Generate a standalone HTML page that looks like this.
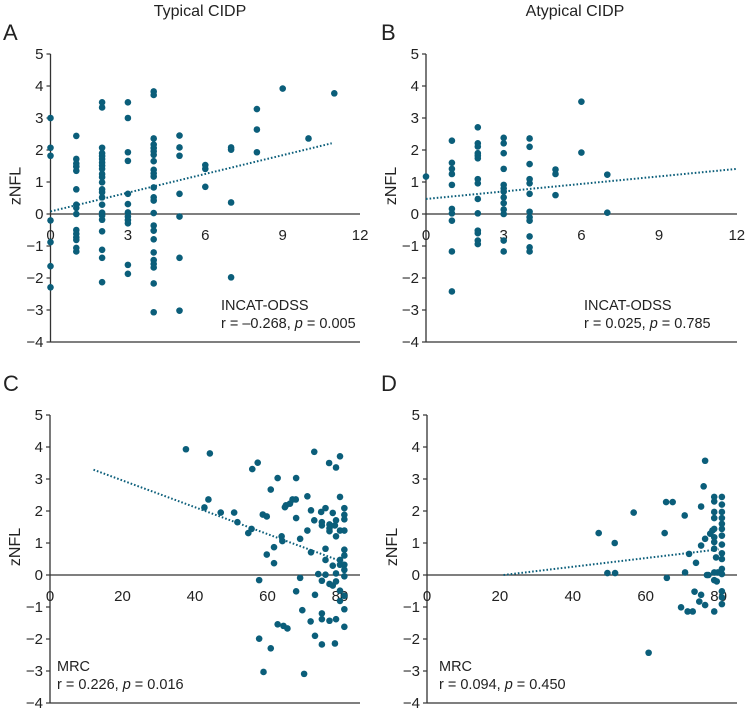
<!DOCTYPE html>
<html><head><meta charset="utf-8"><style>
html,body{margin:0;padding:0;background:#fff;}
svg{display:block;font-family:"Liberation Sans",sans-serif;}
</style></head><body>
<svg id="c" width="745" height="710" viewBox="0 0 745 710">
<text x="200" y="16" text-anchor="middle" font-size="16" fill="#222">Typical CIDP</text>
<text x="575" y="16" text-anchor="middle" font-size="16" fill="#222">Atypical CIDP</text>
</svg>
<script>
const yTicks=[5,4,3,2,1,0,-1,-2,-3,-4];
const xTicksIncat=[0,3,6,9,12];
const xTicksMrc=[0,20,40,60,80];
const aX=[0,0,0,0,0,0,0,1,1,1,1,1,1,1,1,1,1,1,1,1,1,1,2,2,2,2,2,2,2,2,2,2,2,2,2,2,2,2,2,2,2,2,2,2,2,3,3,3,3,3,3,3,3,3,3,3,3,4,4,4,4,4,4,4,4,4,4,4,4,4,4,4,4,4,4,4,4,4,4,4,4,5,5,5,5,5,5,5,6,6,6,7,7,7,7,8,8,8,9,10,11];
const aY=[3.0,2.07,1.82,-0.2,-0.88,-1.63,-2.29,2.44,1.72,1.58,1.48,1.35,0.77,0.29,0.19,0,-0.5,-0.62,-0.73,-0.81,-1.06,-1.17,3.49,3.33,2.07,1.9,1.81,1.72,1.61,1.51,1.41,1.25,1.15,0.99,0.77,0.68,0.52,0.29,0.04,-0.05,-0.18,-0.54,-1.12,-1.37,-2.13,3.49,3.0,1.93,1.66,0.63,0.31,0.05,-0.08,-0.19,-0.29,-1.59,-1.87,3.83,3.72,2.36,2.17,2.06,1.96,1.85,1.65,1.38,1.27,1.17,0.83,0.52,0.42,0.03,-0.36,-0.52,-0.79,-1.2,-1.44,-1.56,-1.67,-2.17,-3.07,2.45,2.08,1.82,0.63,-0.08,-1.37,-3.02,1.53,1.41,0.85,2.08,2.01,0.36,-1.98,3.28,2.64,1.93,3.92,2.36,3.77];
const aTrend=[[0,0.08],[10.9,2.21]];
const bX=[0,1,1,1,1,1,1,1,1,1,1,2,2,2,2,2,2,2,2,2,2,2,2,2,2,3,3,3,3,3,3,3,3,3,3,3,3,3,4,4,4,4,4,4,4,4,4,4,4,4,5,5,5,6,6,7,7];
const bY=[1.17,2.29,1.6,1.41,1.25,0.91,0.16,0.02,-0.21,-1.17,-2.42,2.71,2.21,2.11,1.9,1.82,1.74,1.09,0.96,0.47,0.02,-0.52,-0.6,-0.83,-0.94,2.38,2.21,1.9,1.41,0.91,0.8,0.7,0.52,0.34,0.14,0,-0.83,-1.17,2.36,2.1,1.56,1.09,0.96,0.63,0.07,-0.1,-0.21,-0.7,-1.04,-1.17,1.39,1.25,0.59,3.51,1.92,1.23,0.04];
const bTrend=[[0,0.47],[12,1.41]];
const cX=[37.5,44.1,43.7,42.6,47.1,50.8,51.7,54.7,55.6,55.8,57.3,57.7,57.7,58.9,58.7,59.8,59.8,60.9,60.9,61.8,61.8,62.8,62.8,63.9,64.1,64.4,64.8,65.1,65.5,66.2,66.9,67.8,67.9,67.9,67.9,69,69,69.6,70.1,71,71,71.9,72,72,72.9,72.9,73.1,73.1,74,74.8,75,75,75,75,75,75,76,76,76,76,77,77.1,77.1,77.1,77.1,77.1,78,78,78,78.6,78.6,78.9,78.9,78.9,78.9,78.9,78.9,80,80,80,80,80,80,80,81.2,81.2,81.2,81.2,81.2,81.2,81.2,81.2,81.2,81.2,81.2,81.2];
const cY=[3.93,3.8,2.36,2.11,1.95,1.95,1.65,1.31,1.44,3.31,3.51,-0.16,-1.99,-3.03,1.89,1.83,0.64,2.67,-2.29,0.87,0.37,3.03,-1.54,1.21,1.06,-1.59,2.12,2.18,-1.67,2.23,2.36,2.36,3.03,1.78,-0.51,1.13,-0.09,-1.1,-3.09,1.39,2.46,-1.45,0.71,2.02,3.85,1.71,-0.62,-1.9,0.03,1.97,1.65,1.55,-0.18,-1.2,-1.38,-2.17,2.09,0.82,0.47,0.01,3.5,1.58,1.46,1.37,-0.28,-1.43,1.94,0.29,-0.33,1.55,-2.14,3.36,1.71,1.21,0.05,-0.2,-1.38,3.71,2.44,1.39,0.47,0.32,-0.49,-0.81,2.09,1.88,1.74,1.39,0.79,0.61,0.32,0.16,-0.04,-0.65,-1.07,-1.62];
const cTrend=[[12,3.29],[81,0.4]];
const dX=[47.1,51.5,49.5,51.6,56.7,60.8,65.2,65.6,65.8,67.4,70.7,70.8,69.7,71.5,71.9,72.9,73.4,73.8,74.7,75.2,75.2,75.2,75.9,76.3,76.3,76.3,76.8,77.2,77.7,78.3,78.8,78.8,78.8,78.8,78.8,78.8,78.8,78.8,78.8,78.8,78.8,79.3,79.5,79.8,80.9,80.9,80.9,80.9,80.9,80.9,80.9,80.9,80.9,80.9,80.9,80.9,80.9,80.9,80.9];
const dY=[1.31,1.0,0.06,0.06,1.95,-2.43,1.31,2.28,-0.09,2.28,1.86,0.08,-1.01,-1.14,0.66,-1.14,-0.52,0.38,-0.83,2.14,0.92,-0.62,2.77,3.57,1.13,-0.94,0,0,1.29,1.39,2.44,2.3,1.97,1.78,1.44,1.18,1.03,0.82,0.08,-0.16,-1.14,0.55,-0.2,0.08,2.44,2.2,1.97,1.78,1.6,1.44,1.23,0.95,0.68,0.5,0.19,0.03,-0.51,-0.7,-0.91];
const dTrend=[[21,0],[80,0.8]];

const NS='http://www.w3.org/2000/svg';
const svg=document.getElementById('c');
const COL='#0b5e7a';
function mk(tag,attrs,parent){const e=document.createElementNS(NS,tag);for(const k in attrs)e.setAttribute(k,attrs[k]);(parent||svg).appendChild(e);return e;}

function panel(p){
  const g=mk('g',{});
  
  
  const xs=v=>p.x0+(v-p.xmin)*p.xs;
  const ys=v=>p.yTop+(5-v)*32;
  const xEnd=p.xRight;
  const L=mk('text',{x:p.lx,y:p.ly,'font-size':22,fill:'#222'},g);L.textContent=p.letter;
  
  
  const ya=mk('line',{x1:p.x0,x2:p.x0,y1:ys(5),y2:ys(-4),stroke:'#333','stroke-width':1.3},g);
  
  
  const bl=mk('line',{x1:p.x0,x2:xEnd,y1:ys(-4),y2:ys(-4),stroke:'#333','stroke-width':1.3},g);
  
  
  const xa=mk('line',{x1:p.x0,x2:xEnd,y1:ys(0),y2:ys(0),stroke:'#333','stroke-width':1.3},g);
  
  
  yTicks.forEach(t=>{
    const tk=mk('line',{x1:p.x0-4,x2:p.x0,y1:ys(t),y2:ys(t),stroke:'#333','stroke-width':1.2},g);
    
    
    const tl=mk('text',{x:p.x0-7,y:ys(t)+5,'text-anchor':'end','font-size':15,fill:'#222'},g);
    tl.textContent=t<0?'\u2212'+(-t):String(t);
    
    
  });
  p.xt.forEach(t=>{
    const tl=mk('text',{x:xs(t),y:ys(0)+26,'text-anchor':'middle','font-size':15,fill:'#222'},g);
    tl.textContent=String(t);
    
    
  });
  const yt=mk('text',{x:0,y:0,'font-size':16,fill:'#222','text-anchor':'middle',transform:`translate(${p.x0-30},${ys(1)+4}) rotate(-90)`},g);
  yt.textContent='zNFL';
  
  
  p.X.forEach((v,i)=>{
    const c=mk('circle',{cx:xs(v),cy:ys(p.Y[i]),r:3.3,fill:COL},g);
    
    
  });
  const tr=mk('line',{x1:xs(p.tr[0][0]),y1:ys(p.tr[0][1]),x2:xs(p.tr[1][0]),y2:ys(p.tr[1][1]),stroke:COL,'stroke-width':2,'stroke-dasharray':'1.6,2'},g);
  
  
  const a1=mk('text',{x:p.ax,y:p.ay,'font-size':14.5,fill:'#222'},g);a1.textContent=p.scale;
  
  
  const a2=mk('text',{x:p.ax,y:p.ay+18,'font-size':14.5,fill:'#222'},g);
  a2.innerHTML='r = '+p.r+', <tspan font-style="italic">p</tspan> = '+p.p;
  
  
}
panel({name:'panel-a',letter:'A',lx:3,ly:40,x0:50.5,xmin:0,xs:25.8,xRight:360,yTop:54,xt:xTicksIncat,X:aX,Y:aY,tr:aTrend,ax:221,ay:310,scale:'INCAT-ODSS',r:'\u20130.268',p:'0.005'});
panel({name:'panel-b',letter:'B',lx:381,ly:40,x0:426,xmin:0,xs:25.9,xRight:737,yTop:54,xt:xTicksIncat,X:bX,Y:bY,tr:bTrend,ax:584,ay:310,scale:'INCAT-ODSS',r:'0.025',p:'0.785'});
panel({name:'panel-c',letter:'C',lx:3,ly:391,x0:50,xmin:0,xs:3.625,xRight:360,yTop:415,xt:xTicksMrc,X:cX,Y:cY,tr:cTrend,ax:57,ay:671,scale:'MRC',r:'0.226',p:'0.016'});
panel({name:'panel-d',letter:'D',lx:381,ly:391,x0:427,xmin:0,xs:3.645,xRight:737,yTop:415,xt:xTicksMrc,X:dX,Y:dY,tr:dTrend,ax:439,ay:671,scale:'MRC',r:'0.094',p:'0.450'});
</script>
</body></html>
